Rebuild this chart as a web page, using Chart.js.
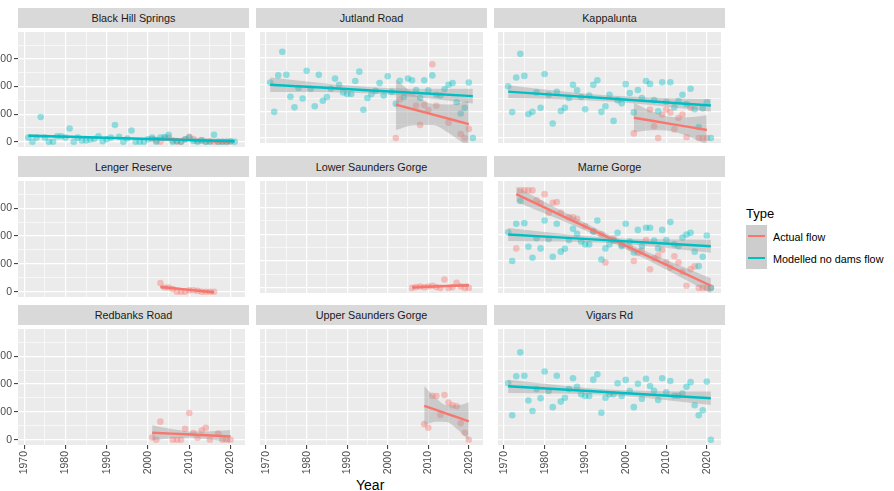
<!DOCTYPE html>
<html><head><meta charset="utf-8">
<script src="https://cdn.jsdelivr.net/npm/chart.js@4.4.1/dist/chart.umd.min.js"></script>
<style>
html,body{margin:0;padding:0;background:#fff;}
#wrap{position:relative;width:894px;height:491px;overflow:hidden;font-family:"Liberation Sans",Arial,Helvetica,sans-serif;}
.strip{position:absolute;background:#D9D9D9;color:#1A1A1A;font-size:10.8px;display:flex;align-items:center;justify-content:center;white-space:nowrap;}
.pc{position:absolute;}
.lg{position:absolute;white-space:nowrap;line-height:1;}
.key{position:absolute;left:746px;width:21px;height:22px;background:#CDCDCD;}
.kl{position:absolute;left:748px;width:17px;height:2.2px;}
</style>
</head><body>
<div id="wrap">
  <div class="lg" style="left:746px;top:206.5px;font-size:13px;color:#000;">Type</div>
  <div class="key" style="top:225px;"></div>
  <div class="key" style="top:247px;"></div>
  <div class="kl" style="top:235px;background:#F8766D;"></div>
  <div class="kl" style="top:257px;background:#00BFC4;"></div>
  <div class="lg" style="left:773px;top:231.7px;font-size:10.8px;color:#000;">Actual flow</div>
  <div class="lg" style="left:773px;top:253.7px;font-size:10.8px;color:#000;">Modelled no dams flow</div>
  <div class="lg" style="left:356px;top:478px;font-size:14px;color:#000;">Year</div>
</div>
<script>
// ---------- data ----------
const xTicks = [1970, 1975, 1980, 1985, 1990, 1995, 2000, 2005, 2010, 2015, 2020];
const xMajor = [1970, 1980, 1990, 2000, 2010, 2020];
const yTicks = [0, 50, 100, 150, 200, 250, 300, 350];
const yMajor = [0, 100, 200, 300];

const panelNames = ["Black Hill Springs", "Jutland Road", "Kappalunta",
  "Lenger Reserve", "Lower Saunders Gorge", "Marne Gorge",
  "Redbanks Road", "Upper Saunders Gorge", "Vigars Rd"];

const modelYears = [1971,1972,1973,1974,1975,1976,1977,1978,1979,1980,
  1981,1982,1983,1984,1985,1986,1987,1988,1989,1990,
  1991,1992,1993,1994,1995,1996,1997,1998,1999,2000,
  2001,2002,2003,2004,2005,2006,2007,2008,2009,2010,
  2011,2012,2013,2014,2015,2016,2017,2018,2019,2020,2021];

const blackHillModelled = [15,0,15,90,15,0,0,20,20,15, 48,0,15,5,5,8,10,20,2,9, 15,61,18,0,12,41,0,0,0,9, 15,0,15,17,25,0,3,0,9,15, 3,0,5,0,0,25,0,0,0,2, 0];
const jutlandModelled = [208,98,235,324,237,155,115,188,148,252, 185,119,237,140,154,185,223,200,171,165, 165,214,249,106,150,165,177,206,159,232, 173,128,215,154,223,217,180,150,217,179, 235,162,159,183,200,206,134,92,113,208, 0];
const kappaluntaModelled = [194,97,227,316,233,90,98,171,113,240, 162,54,173,101,113,150,200,179,154,108, 159,200,217,98,119,162,64,142,130,202, 169,96,180,150,214,203,142,100,209,136, 209,115,139,162,127,185,108,41,111,134, 0];
const marneModelled = [207,100,239,324,241,153,112,185,147,251, 182,116,239,135,146,178,220,201,173,162, 162,210,251,106,147,162,176,205,155,239, 173,132,216,155,224,224,176,147,216,178, 245,162,155,187,199,205,135,81,116,195, 0];
const vigarsModelled = [203,88,228,314,230,141,103,182,149,245, 175,117,230,137,151,182,221,190,163,157, 157,216,235,97,151,163,163,203,157,215, 175,117,201,147,219,193,176,143,221,170, 211,158,158,166,190,207,124,88,106,209, 0];

const blackHillActualYears = [2001,2002,2003,2004,2005,2006,2007,2008,2009,2010,2011,2012,2013,2014,2015,2016,2017,2018,2019,2020];
const blackHillActual = [10,5,0,12,15,5,0,0,8,18,10,3,5,0,2,0,0,0,0,0];
const jutlandActualYears = [2002,2003,2007,2008,2009,2010,2011,2012,2015,2018,2019,2020];
const jutlandActual = [0,145,122,49,124,105,277,121,57,15,0,34];
const kappaluntaActualYears = [2002,2006,2007,2008,2009,2010,2011,2012,2013,2014,2015,2016,2018,2019,2020];
const kappaluntaActual = [17,107,44,0,88,107,96,32,75,88,3,113,0,0,0];
const lengerActualYears = [2003,2004,2005,2006,2007,2008,2009,2010,2011,2012,2013,2014,2015,2016];
const lengerActual = [31,15,15,10,0,0,0,5,5,3,0,0,0,0];
const lowerSaundersActualYears = [2006,2007,2008,2009,2010,2011,2012,2013,2014,2015,2016,2017,2018,2019,2020];
const lowerSaundersActual = [0,3,5,2,5,8,3,0,31,0,3,19,5,0,0];
const marneActualYears = [1973,1974,1975,1976,1977,1978,1979,1980,1981,1982,1983,1984,1986,1987,1988,1990,1992,1994,1995,1997,1999,2001,2002,2003,2004,2005,2006,2007,2008,2009,2010,2011,2012,2013,2014,2015,2016,2017,2018,2019,2020,2021];
const marneActual = [147,363,363,363,363,326,315,349,280,317,320,280,263,263,257,230,210,200,95,185,160,150,100,130,140,178,69,110,120,141,95,75,118,95,60,8,70,80,0,0,0,0];
const redbanksActualYears = [2001,2002,2003,2006,2007,2008,2009,2010,2011,2012,2013,2014,2015,2017,2018,2019,2020];
const redbanksActual = [8,0,65,0,0,0,39,96,24,7,33,43,0,22,0,0,0];
const upperSaundersActualYears = [2009,2010,2011,2012,2013,2014,2015,2016,2017,2018,2019,2020];
const upperSaundersActual = [56,43,158,157,89,161,134,124,120,59,25,0];

// fitted trend lines with confidence bands
const modelFitX = [1971, 1983.5, 1996, 2008.5, 2021];
const blackHillModelledFit = [22,17,12,7,2];
const blackHillModelledLo = [16,13,9,3,-4];
const blackHillModelledHi = [28,21,15,11,8];
const jutlandModelledFit = [200,189.25,178.5,167.75,157];
const jutlandModelledLo = [173,172.25,166.5,150.75,129];
const jutlandModelledHi = [227,206.25,190.5,184.75,185];
const kappaluntaModelledFit = [174,161,148,135,122];
const kappaluntaModelledLo = [150,145.7,137,119.7,98];
const kappaluntaModelledHi = [198,176.3,159,150.3,146];
const marneModelledFit = [199,188,177,166,155];
const marneModelledLo = [175,173.2,167,151.2,131];
const marneModelledHi = [223,202.8,187,180.8,179];
const vigarsModelledFit = [192,181.25,170.5,159.75,149];
const vigarsModelledLo = [168,166.45,160.5,144.95,125];
const vigarsModelledHi = [216,196.05,180.5,174.55,173];

const blackHillActualFitX = [2001,2005.75,2010.5,2015.25,2020];
const blackHillActualFit = [12,9,6,3,0];
const blackHillActualLo = [5,4.4,2.5,-1.6,-7];
const blackHillActualHi = [19,13.6,9.5,7.6,7];
const jutlandActualFitX = [2002,2006.5,2011,2015.5,2020];
const jutlandActualFit = [125,106.75,88.5,70.25,52];
const jutlandActualLo = [30,48,48.5,14,-36];
const jutlandActualHi = [220,165.5,128.5,126,140];
const kappaluntaActualFitX = [2002,2006.5,2011,2015.5,2020];
const kappaluntaActualFit = [76,64.5,53,41.5,30];
const kappaluntaActualLo = [21,28.5,26,5.5,-25];
const kappaluntaActualHi = [131,100.5,80,77.5,85];
const lengerActualFitX = [2003,2006.25,2009.5,2012.75,2016];
const lengerActualFit = [17,12.25,7.5,2.75,-2];
const lengerActualLo = [11,8.25,4.5,-1.25,-8];
const lengerActualHi = [23,16.25,10.5,6.75,4];
const lowerSaundersActualFitX = [2006,2009.5,2013,2016.5,2020];
const lowerSaundersActualFit = [2,4,6,8,10];
const lowerSaundersActualLo = [-5,-0.6,2.5,3.4,3];
const lowerSaundersActualHi = [9,8.6,9.5,12.6,17];
const marneActualFitX = [1973,1985,1997,2009,2021];
const marneActualFit = [349,263.75,178.5,93.25,8];
const marneActualLo = [321,246.35,166.5,75.85,-20];
const marneActualHi = [377,281.15,190.5,110.65,36];
const redbanksActualFitX = [2001,2005.75,2010.5,2015.25,2020];
const redbanksActualFit = [25,21.75,18.5,15.25,12];
const redbanksActualLo = [-2,5.25,7.5,0.35,-11];
const redbanksActualHi = [52,38.25,29.5,30.15,35];
const upperSaundersActualFitX = [2009,2011.75,2014.5,2017.25,2020];
const upperSaundersActualFit = [122,108,94,80,66];
const upperSaundersActualLo = [51,64.4,64,36.4,-3];
const upperSaundersActualHi = [193,151.6,124,123.6,135];

// ---------- layout ----------
const FONT = '"Liberation Sans", Arial, Helvetica, sans-serif';
const RED = '#F8766D', CYAN = '#00BFC4';
const RED_A = 'rgba(248,118,109,0.4)', CYAN_A = 'rgba(0,191,196,0.4)';
const BAND = 'rgba(153,153,153,0.4)';
const PANEL_W = 231;
const colLeft = [18, 256, 494];
const plotTop = [28, 177, 325];
const plotH = [119, 120, 120];
const stripTop = [8, 156, 305];
const stripH = [20, 21, 20];
const Y_AXIS_W = 40, X_AXIS_H = 40;

const panels = [
  {act:[blackHillActualYears, blackHillActual], actFit:[blackHillActualFitX, blackHillActualFit, blackHillActualLo, blackHillActualHi],
   mod:blackHillModelled, modFit:[modelFitX, blackHillModelledFit, blackHillModelledLo, blackHillModelledHi]},
  {act:[jutlandActualYears, jutlandActual], actFit:[jutlandActualFitX, jutlandActualFit, jutlandActualLo, jutlandActualHi],
   mod:jutlandModelled, modFit:[modelFitX, jutlandModelledFit, jutlandModelledLo, jutlandModelledHi]},
  {act:[kappaluntaActualYears, kappaluntaActual], actFit:[kappaluntaActualFitX, kappaluntaActualFit, kappaluntaActualLo, kappaluntaActualHi],
   mod:kappaluntaModelled, modFit:[modelFitX, kappaluntaModelledFit, kappaluntaModelledLo, kappaluntaModelledHi]},
  {act:[lengerActualYears, lengerActual], actFit:[lengerActualFitX, lengerActualFit, lengerActualLo, lengerActualHi]},
  {act:[lowerSaundersActualYears, lowerSaundersActual], actFit:[lowerSaundersActualFitX, lowerSaundersActualFit, lowerSaundersActualLo, lowerSaundersActualHi]},
  {act:[marneActualYears, marneActual], actFit:[marneActualFitX, marneActualFit, marneActualLo, marneActualHi],
   mod:marneModelled, modFit:[modelFitX, marneModelledFit, marneModelledLo, marneModelledHi]},
  {act:[redbanksActualYears, redbanksActual], actFit:[redbanksActualFitX, redbanksActualFit, redbanksActualLo, redbanksActualHi]},
  {act:[upperSaundersActualYears, upperSaundersActual], actFit:[upperSaundersActualFitX, upperSaundersActualFit, upperSaundersActualLo, upperSaundersActualHi]},
  {mod:vigarsModelled, modFit:[modelFitX, vigarsModelledFit, vigarsModelledLo, vigarsModelledHi]}
];

function pts(xs, ys){ return xs.map((x,i)=>({x:x, y:ys[i]})); }

function addFit(ds, f, color, bandOrder, lineOrder){
  ds.push({data: pts(f[0], f[2]), showLine:true, borderWidth:0, borderColor:'rgba(0,0,0,0)', pointRadius:0, fill:false, order:bandOrder, cubicInterpolationMode:'monotone'});
  ds.push({data: pts(f[0], f[3]), showLine:true, borderWidth:0, borderColor:'rgba(0,0,0,0)', pointRadius:0, fill:'-1', backgroundColor:BAND, order:bandOrder, cubicInterpolationMode:'monotone'});
  ds.push({data: pts(f[0], f[1]), showLine:true, borderWidth:2.4, borderColor:color, pointRadius:0, fill:false, order:lineOrder});
}

const bgPlugin = {
  id:'panelBg',
  beforeDraw(chart){
    const a = chart.chartArea, ctx = chart.ctx;
    ctx.save(); ctx.fillStyle = '#EBEBEB';
    ctx.fillRect(a.left, a.top, a.right - a.left, a.bottom - a.top);
    ctx.restore();
  }
};

const wrap = document.getElementById('wrap');
panels.forEach((p, i) => {
  const r = Math.floor(i / 3), c = i % 3;
  const strip = document.createElement('div');
  strip.className = 'strip';
  strip.style.left = colLeft[c] + 'px'; strip.style.top = stripTop[r] + 'px';
  strip.style.width = PANEL_W + 'px'; strip.style.height = stripH[r] + 'px';
  strip.textContent = panelNames[i];
  wrap.appendChild(strip);

  const yw = c === 0 ? Y_AXIS_W : 0;
  const xh = r === 2 ? X_AXIS_H : (c === 0 ? 8 : 0);
  const W = PANEL_W + yw, H = plotH[r] + xh;
  const box = document.createElement('div');
  box.className = 'pc';
  box.style.left = (colLeft[c] - yw) + 'px'; box.style.top = plotTop[r] + 'px';
  box.style.width = W + 'px'; box.style.height = H + 'px';
  const cv = document.createElement('canvas');
  cv.width = W; cv.height = H; cv.style.width = W + 'px'; cv.style.height = H + 'px';
  box.appendChild(cv); wrap.appendChild(box);

  const ds = [];
  if (p.act) ds.push({data: pts(p.act[0], p.act[1]), showLine:false, pointRadius:3.3, pointBackgroundColor:RED_A, pointBorderWidth:0, order:100});
  if (p.mod) ds.push({data: pts(modelYears, p.mod), showLine:false, pointRadius:3.3, pointBackgroundColor:CYAN_A, pointBorderWidth:0, order:90});
  if (p.actFit) addFit(ds, p.actFit, RED, 80, 70);
  if (p.modFit) addFit(ds, p.modFit, CYAN, 60, 50);

  const showX = r === 2, showY = c === 0;
  new Chart(cv, {
    type:'line',
    data:{datasets: ds},
    plugins:[bgPlugin],
    options:{
      responsive:false, animation:false, events:[],
      layout:{padding:0},
      plugins:{legend:{display:false}, tooltip:{enabled:false}, title:{display:false}},
      scales:{
        x:{
          type:'linear', min:1968.5, max:2023.5,
          afterBuildTicks: s => { s.ticks = xTicks.map(v => ({value:v})); },
          afterFit: s => { s.height = xh; s.paddingLeft = 0; s.paddingRight = 0; },
          border:{display:false},
          grid:{color:'#FFFFFF', drawTicks:showX, tickLength:4, tickWidth:1,
            lineWidth: ctx => (ctx.tick && xMajor.includes(ctx.tick.value)) ? 1.2 : 0.6,
            tickColor: ctx => (ctx.tick && xMajor.includes(ctx.tick.value)) ? '#333333' : 'rgba(0,0,0,0)'},
          ticks:{display:showX, autoSkip:false, minRotation:90, maxRotation:90, padding:2,
            color:'#4D4D4D', font:{family:FONT, size:10.5},
            callback: v => xMajor.includes(v) ? String(v) : ''}
        },
        y:{
          type:'linear', min:-19, max:398,
          afterBuildTicks: s => { s.ticks = yTicks.map(v => ({value:v})); },
          afterFit: s => { s.width = yw; s.paddingTop = 0; s.paddingBottom = 0; },
          border:{display:false},
          grid:{color:'#FFFFFF', drawTicks:showY, tickLength:4, tickWidth:1,
            lineWidth: ctx => (ctx.tick && yMajor.includes(ctx.tick.value)) ? 1.2 : 0.6,
            tickColor: ctx => (ctx.tick && yMajor.includes(ctx.tick.value)) ? '#333333' : 'rgba(0,0,0,0)'},
          ticks:{display:showY, autoSkip:false, padding:2,
            color:'#4D4D4D', font:{family:FONT, size:10.5},
            callback: v => yMajor.includes(v) ? String(v) : ''}
        }
      }
    }
  });
});
</script>
</body></html>
